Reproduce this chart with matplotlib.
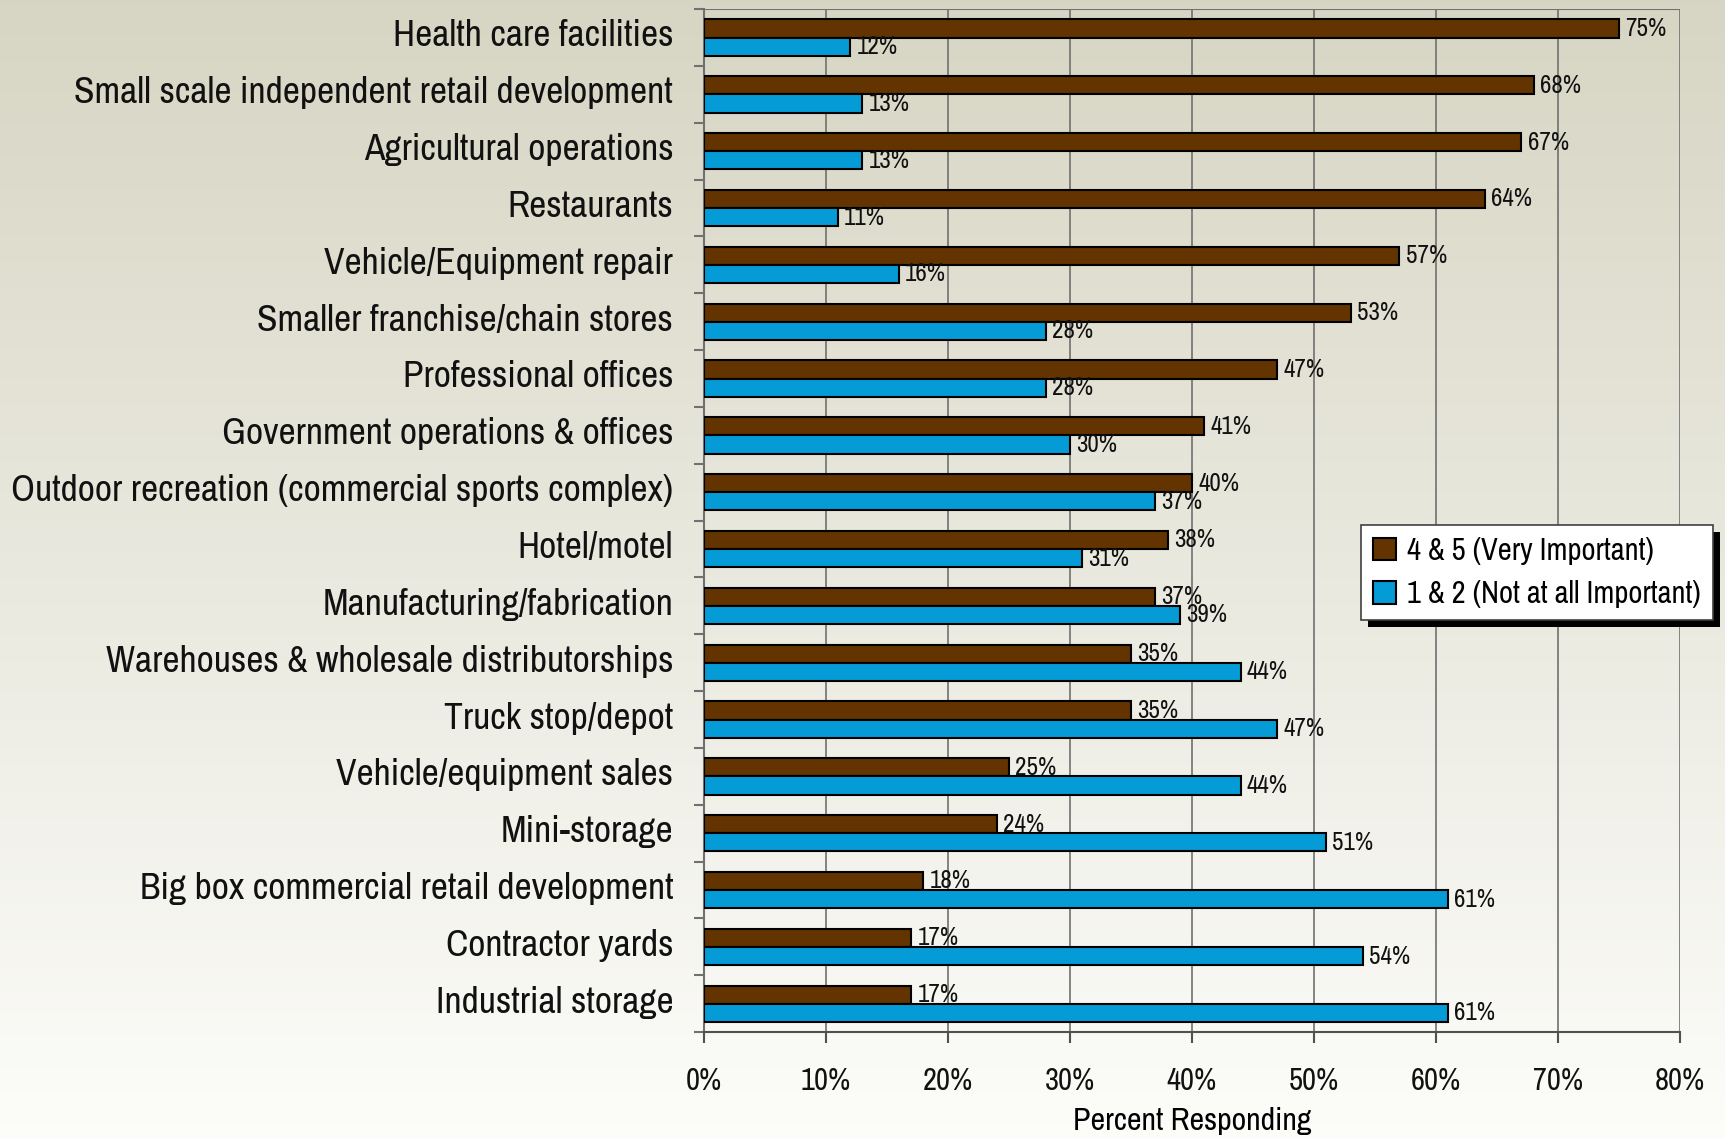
import matplotlib
matplotlib.use('Agg')
import matplotlib.pyplot as plt
from matplotlib.patches import Rectangle
import numpy as np

plt.rcParams['font.family'] = ['Archivo Narrow', 'DejaVu Sans']

categories = [
    'Health care facilities',
    'Small scale independent retail development',
    'Agricultural operations',
    'Restaurants',
    'Vehicle/Equipment repair',
    'Smaller franchise/chain stores',
    'Professional offices',
    'Government operations & offices',
    'Outdoor recreation (commercial sports complex)',
    'Hotel/motel',
    'Manufacturing/fabrication',
    'Warehouses & wholesale distributorships',
    'Truck stop/depot',
    'Vehicle/equipment sales',
    'Mini-storage',
    'Big box commercial retail development',
    'Contractor yards',
    'Industrial storage',
]
very_important = [75, 68, 67, 64, 57, 53, 47, 41, 40, 38, 37, 35, 35, 25, 24, 18, 17, 17]
not_important = [12, 13, 13, 11, 16, 28, 28, 30, 37, 31, 39, 44, 47, 44, 51, 61, 54, 61]
xticks = [0, 10, 20, 30, 40, 50, 60, 70, 80]

brown = '#633300'
blue = '#049BD6'

fig = plt.figure(figsize=(17.25, 11.38), dpi=100)

# gradient background
bg = fig.add_axes([0, 0, 1, 1], zorder=-1)
top = np.array([0.843, 0.835, 0.765])
bot = np.array([0.99, 0.99, 0.98])
t = np.linspace(0, 1, 256)[:, None]
grad = (top * (1 - t) + bot * t)[:, None, :]
bg.imshow(grad, aspect='auto', extent=[0, 1, 0, 1])
bg.set_axis_off()

ax = fig.add_axes([0.408, 0.093, 0.566, 0.899])
ax.set_facecolor('none')

n = len(categories)
y = np.arange(n)
h = 0.32
ax.barh(y - h / 2, very_important, height=h, color=brown, edgecolor='black', linewidth=1.5,
        label='4 & 5 (Very Important)', zorder=3)
ax.barh(y + h / 2, not_important, height=h, color=blue, edgecolor='black', linewidth=1.5,
        label='1 & 2 (Not at all Important)', zorder=3)

for i in range(n):
    ax.text(very_important[i] + 0.5, y[i] - h / 2, f'{very_important[i]}%', va='center',
            ha='left', fontsize=18, zorder=4, color='#111111')
    ax.text(not_important[i] + 0.5, y[i] + h / 2, f'{not_important[i]}%', va='center',
            ha='left', fontsize=18, zorder=4, color='#111111')

ax.set_ylim(n - 0.5, -0.5)
ax.set_xlim(0, 80)
# labels sit a little above the group centre
ax.set_yticks(y - 0.08)
ax.set_yticklabels(categories, fontsize=27, color='#111111')
ax.set_yticks(np.arange(n + 1) - 0.5, minor=True)
ax.tick_params(axis='y', which='major', length=0, pad=22)
ax.tick_params(axis='y', which='minor', length=7, color='#707070', width=1.5)
ax.set_xticks(xticks)
ax.set_xticklabels([f'{v}%' for v in xticks], fontsize=22, color='#111111')
ax.tick_params(axis='x', length=8, color='#505050', width=1.5, pad=17)
ax.set_xlabel('Percent Responding', fontsize=23, labelpad=9)

ax.grid(axis='x', color='#707070', linewidth=1.2, zorder=0)
ax.set_axisbelow(True)
for s in ['top', 'right']:
    ax.spines[s].set_visible(False)
ax.spines['left'].set_color('#707070')
ax.spines['left'].set_linewidth(1.5)
ax.spines['bottom'].set_color('#505050')
ax.spines['bottom'].set_linewidth(1.5)
ax.axhline(-0.5, color='#707070', linewidth=1.5, zorder=1)

leg = ax.legend(loc='upper left', bbox_to_anchor=(0.789, 0.539), bbox_transform=fig.transFigure,
                borderaxespad=0, fontsize=22, frameon=True, fancybox=False, edgecolor='#404040',
                facecolor='white', framealpha=1,
                handlelength=0.75, handleheight=0.75, handletextpad=0.35, labelspacing=0.5,
                borderpad=0.4)
leg.get_frame().set_linewidth(1.2)
leg.set_zorder(6)

fig.canvas.draw()
bb = leg.get_window_extent()
ax.add_patch(Rectangle((bb.x0 + 7, bb.y0 - 7), bb.width, bb.height, transform=None,
                       facecolor='black', edgecolor='none', zorder=5.5, clip_on=False))

fig.savefig('out.png', dpi=100)
